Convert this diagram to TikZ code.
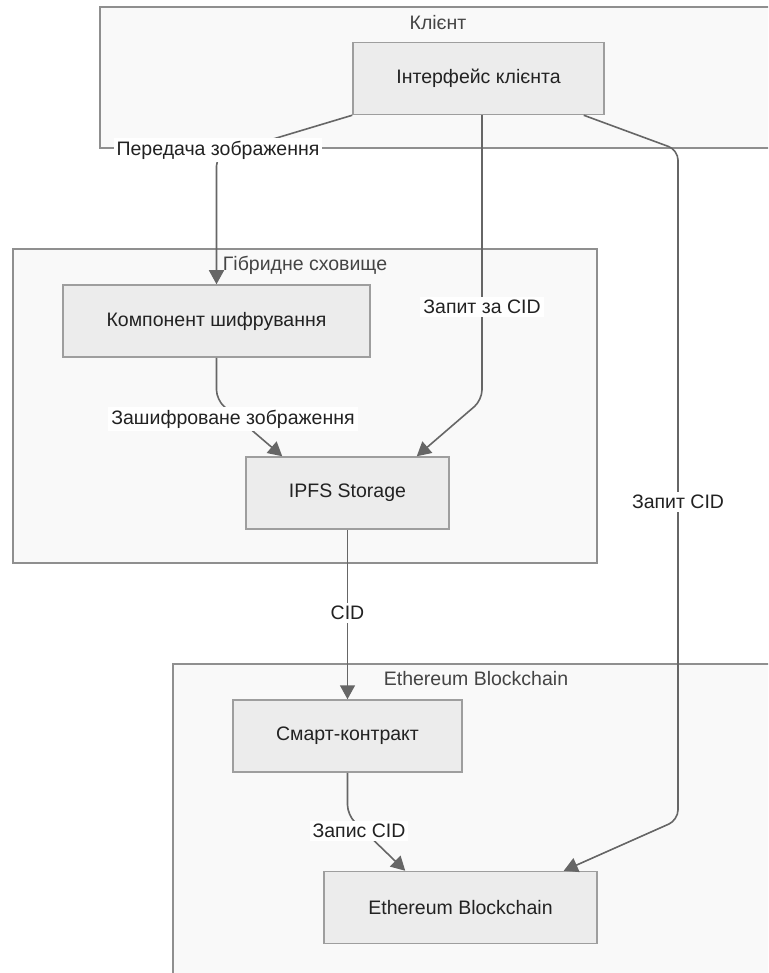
\documentclass[tikz,border=0pt]{standalone}
\usepackage{fontspec}
\setmainfont{Liberation Sans}
\usetikzlibrary{calc,arrows.meta}
\definecolor{ink}{HTML}{222222}
\definecolor{ttl}{HTML}{444444}
\definecolor{edge}{HTML}{666666}
\definecolor{nodefill}{HTML}{ECECEC}
\definecolor{nodeline}{HTML}{9E9E9E}
\definecolor{clfill}{HTML}{F9F9F9}
\definecolor{clline}{HTML}{8F8F8F}
\tikzset{
  cluster/.style={fill=clfill, draw=clline, line width=1.5pt},
  ctitle/.style={text=ttl, font=\fontsize{19.5}{23}\selectfont},
  box/.style={rectangle, fill=nodefill, draw=nodeline, line width=1.5pt, inner sep=0pt,
    minimum height=72pt, text=ink, font=\fontsize{19.5}{23}\selectfont},
  flow/.style={draw=edge, line width=1.6pt, rounded corners=10pt, -{Triangle[length=14pt,width=15pt]}},
  elab/.style={fill=white, text=ink, inner sep=3pt, font=\fontsize{19.5}{23}\selectfont},
}

\begin{document}
\begin{tikzpicture}[x=1pt, y=-1pt]
  \useasboundingbox (0,0) rectangle (768,973);
  \clip (0,0) rectangle (768,973);

  % subgraphs
  \draw[cluster] (100,7) rectangle (776,148);
  \draw[cluster] (13,249) rectangle (597,563);
  \draw[cluster] (173,664) rectangle (779,990);
  \node[ctitle] (tclient) at (438,23) {Клієнт};
  \node[ctitle] (thybrid) at (305,265) {Гібридне сховище};
  \node[ctitle] (teth) at (476,679) {Ethereum Blockchain};

  % nodes
  \node[box, minimum width=251pt] (iface) at (478.5,78.5) {Інтерфейс клієнта};
  \node[box, minimum width=307pt] (enc) at (216.5,321) {Компонент шифрування};
  \node[box, minimum width=203pt] (ipfs) at (347.5,493) {IPFS Storage};
  \node[box, minimum width=229pt] (sc) at (347.5,736) {Смарт-контракт};
  \node[box, minimum width=273pt] (eth) at (460.5,907.5) {Ethereum Blockchain};

  % bends
  \coordinate (b1) at (216.5,156);
  \coordinate (b2) at (482,400);
  \coordinate (b3a) at (678,150);
  \coordinate (b3b) at (678,820);
  \coordinate (b4) at (216.5,400);
  \coordinate (b6) at (347.5,815);

  % edges
  \draw[flow] (iface.south west) -- (b1) -- (enc.north);
  \draw[flow] (b2 |- iface.south) -- (b2) -- ([xshift=-33pt]ipfs.north east);
  \draw[flow] ([xshift=-21pt]iface.south east) -- (b3a) -- (b3b) -- ([xshift=-34pt]eth.north east);
  \draw[flow] (enc.south) -- (b4) -- ([xshift=37pt]ipfs.north west);
  \draw[flow] (ipfs.south) -- (sc.north);
  \draw[flow] (sc.south) -- (b6) -- ([xshift=82pt]eth.north west);

  % edge labels
  \node[elab] (l1) at (218,150) {Передача зображення};
  \node[elab] (l2) at (482,307) {Запит за CID};
  \node[elab] (l3) at (678,502) {Запит CID};
  \node[elab] (l4) at (233,419) {Зашифроване зображення};
  \node[elab] (l5) at (347.5,613) {CID};
  \node[elab] (l6) at (359,831) {Запис CID};
\end{tikzpicture}
\end{document}
